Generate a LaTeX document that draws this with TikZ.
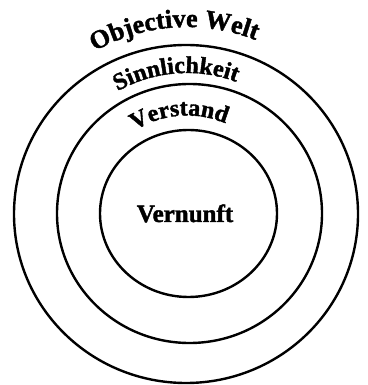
\documentclass[tikz,border=0pt]{standalone}
\usepackage{fontspec}
\setmainfont{Liberation Serif}[BoldFeatures={FakeBold=1.6}]
\usetikzlibrary{shapes.geometric,decorations.text}

\begin{document}
\begin{tikzpicture}[x=1pt,y=1pt,
  ring/.style={draw,ellipse,line width=2.4pt,inner sep=0pt},
  bow/.style 2 args={decorate,decoration={text along path,text align=center,
    text={|\bfseries\fontsize{#1}{#1}\selectfont|#2}}}]
\useasboundingbox (0,0) rectangle (367,385);
\coordinate (c) at (187,171);
% the three spheres round the centre
\node[ring,minimum width=344,minimum height=338] (welt) at (186,171) {};
\node[ring,minimum width=265,minimum height=259] (sinn) at (189.5,171.5) {};
\node[ring,minimum width=177,minimum height=167] (verstand) at (188.5,171.5) {};
\node[font=\bfseries\fontsize{25}{25}\selectfont,anchor=base] (vernunft) at (185,163) {Vernunft};
% curved labels above each ring
\path[bow={26}{Objective Welt}] ([shift={(134:187)}]c) arc[start angle=134,end angle=54,radius=187];
\path[bow={24}{Sinnlichkeit}] ([shift={(134:141)}]c) arc[start angle=134,end angle=55,radius=141];
\path[bow={24}{Verstand}] ([shift={(134:98.5)}]c) arc[start angle=134,end angle=55,radius=98.5];
\end{tikzpicture}
\end{document}
